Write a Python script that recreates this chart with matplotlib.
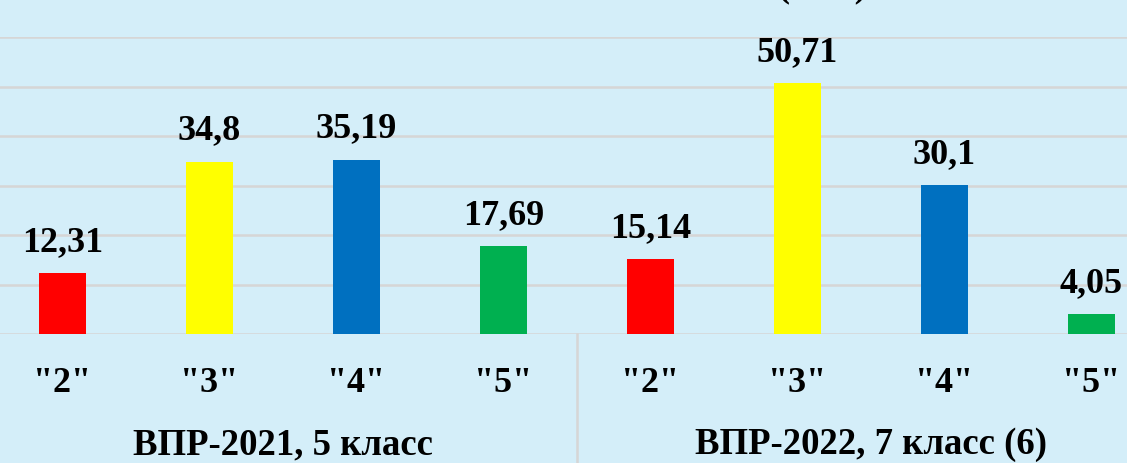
import matplotlib
matplotlib.use("Agg")
import matplotlib.pyplot as plt
import matplotlib.transforms as mtransforms

categories = ['"2"', '"3"', '"4"', '"5"', '"2"', '"3"', '"4"', '"5"']
values = [12.31, 34.8, 35.19, 17.69, 15.14, 50.71, 30.1, 4.05]
value_labels = ["12,31", "34,8", "35,19", "17,69", "15,14", "50,71", "30,1", "4,05"]
groups = ["ВПР-2021, 5 класс", "ВПР-2022, 7 класс (6)"]
colors = ["#ff0000", "#ffff00", "#0070c0", "#00b050"] * 2

W, H = 1127, 464
bg = "#d4eef9"
grid_c = "#d6d6d6"
font = "Liberation Serif"

fig = plt.figure(figsize=(W / 100, H / 100), dpi=100, facecolor=bg)
ax_left = -11 / W
ax_w = 1176 / W
ax_bottom = (H - 335) / H
ax_h = (335 - 38) / H
ax = fig.add_axes([ax_left, ax_bottom, ax_w, ax_h])
ax.set_facecolor(bg)

x = list(range(len(values)))
bars = ax.bar(x, values, width=0.32, color=colors, zorder=3)
ax.set_xlim(-0.5, len(values) - 0.5)
ax.set_ylim(0, 60)
ax.set_yticks(range(0, 61, 10))
ax.yaxis.grid(True, color=grid_c, linewidth=1.8, zorder=0)
ax.tick_params(axis="y", left=False, labelleft=False)
for s in ax.spines.values():
    s.set_visible(False)

ax.set_xticks(x)
ax.set_xticklabels(categories, fontsize=26, fontweight="bold", family=font)
ax.tick_params(axis="x", length=0, pad=23)

for xi, v, lab in zip(x, values, value_labels):
    ax.annotate(lab, (xi, v), xytext=(0, 11), textcoords="offset points",
                ha="center", va="bottom", fontsize=26, fontweight="bold",
                family=font, zorder=4)

# group separator
trans = mtransforms.blended_transform_factory(ax.transData, ax.transAxes)
ax.plot([3.5, 3.5], [0, -0.5], transform=trans, color=grid_c, lw=1.8, clip_on=False)
ax.plot([-0.5, -0.5], [0, -0.5], transform=trans, color=grid_c, lw=1.8, clip_on=False)

# group labels
for gi, g in enumerate(groups):
    cx = gi * 4 + 1.5
    ax.text(cx, -(445 - 335) / (335 - 38), g, transform=trans,
            ha="center", va="center", fontsize=26.5, fontweight="bold", family=font)

# partially visible title
fig.text(822 / W, 1 + 4 / H, "(в %)", ha="center", va="baseline",
         fontsize=26, fontweight="bold", family=font)

fig.savefig("out.png", dpi=100, facecolor=bg)
